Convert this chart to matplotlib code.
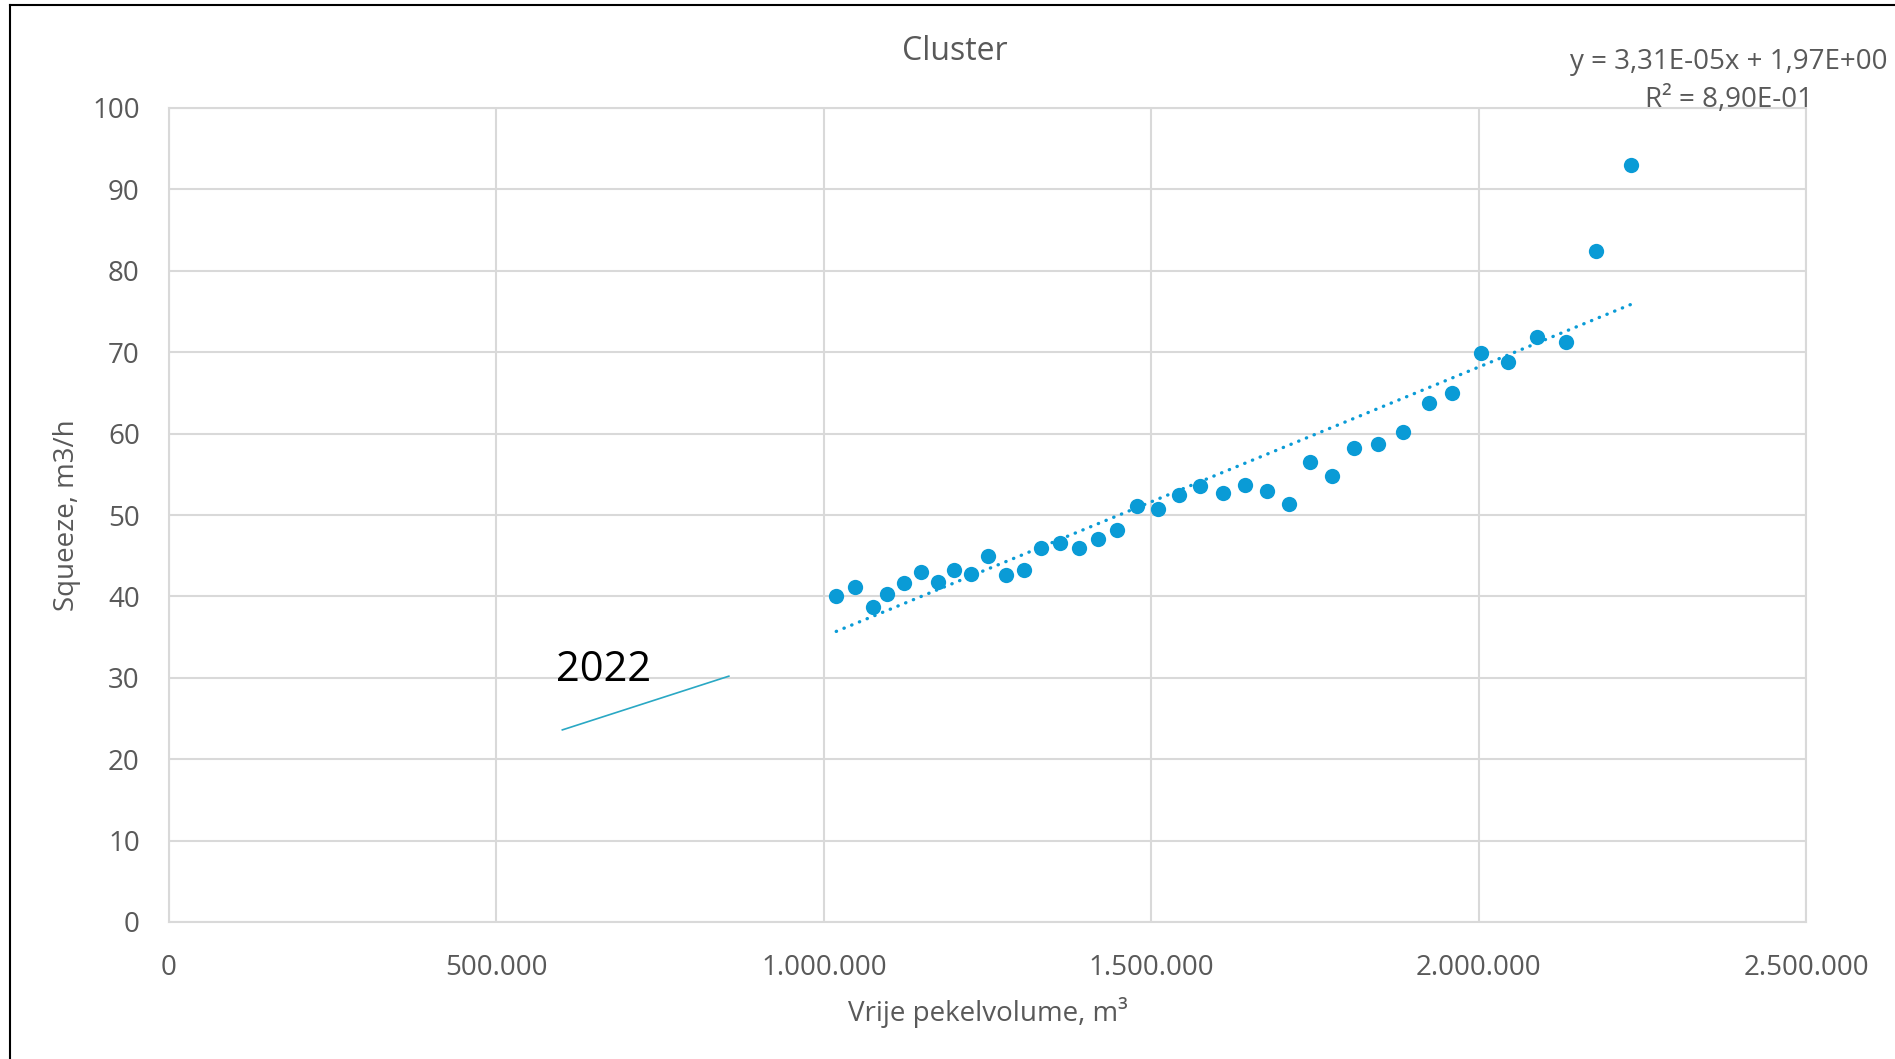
import numpy as np
import matplotlib.pyplot as plt
from matplotlib.ticker import FuncFormatter
from matplotlib.lines import Line2D

plt.rcParams['font.family'] = ['Open Sans', 'DejaVu Sans']

# Data
volume = [1019000, 1047000, 1075000, 1097000, 1123000, 1149000, 1175000, 1199000,
          1225000, 1251000, 1279000, 1306000, 1332000, 1361000, 1390000, 1419000,
          1448000, 1478000, 1510000, 1542000, 1575000, 1610000, 1643000, 1677000,
          1710000, 1743000, 1776000, 1810000, 1847000, 1885000, 1924000, 1960000,
          2003000, 2045000, 2089000, 2134000, 2179000, 2233000]
squeeze = [40.1, 41.1, 38.7, 40.3, 41.6, 43.0, 41.8, 43.3,
           42.7, 45.0, 42.6, 43.3, 45.9, 46.6, 46.0, 47.0,
           48.1, 51.1, 50.7, 52.4, 53.6, 52.7, 53.7, 53.0,
           51.3, 56.5, 54.8, 58.2, 58.7, 60.2, 63.7, 65.0,
           69.9, 68.8, 71.9, 71.2, 82.4, 93.0]

# trendline as printed on the chart
slope = 3.31e-05
intercept = 1.97

# the hand-drawn 2022 line
line2022_x = [600700, 855000]
line2022_y = [23.6, 30.2]

blue = '#0A9BD6'
grey_text = '#595959'
grid_col = '#D9D9D9'

fig = plt.figure(figsize=(18.95, 10.59), dpi=100)
ax = fig.add_axes([169 / 1895, 1 - 922 / 1059, 1637 / 1895, 814 / 1059])

ax.plot(volume, squeeze, 'o', color=blue, markersize=11, markeredgewidth=0, zorder=3)

# linear trendline over the data range
tx = np.array([min(volume), max(volume)])
ty = slope * tx + intercept
ax.plot(tx, ty, color=blue, linewidth=2.4, linestyle=(0, (0.1, 2.4)),
        dash_capstyle='round', zorder=2)

ax.plot(line2022_x, line2022_y, color='#2AA8C4', linewidth=1.2, zorder=2)
ax.text(590600, 29.6, '2022', fontsize=30, color='black', ha='left', va='baseline')

ax.set_xlim(0, 2500000)
ax.set_ylim(0, 100)
ax.set_xticks(np.arange(0, 2500001, 500000))
ax.set_yticks(np.arange(0, 101, 10))
ax.xaxis.set_major_formatter(FuncFormatter(lambda v, p: f'{int(v):,}'.replace(',', '.')))

ax.grid(True, color=grid_col, linewidth=1.5)
ax.set_axisbelow(True)
for s in ax.spines.values():
    s.set_color(grid_col)
    s.set_linewidth(1.5)
ax.tick_params(length=0, labelsize=20, labelcolor=grey_text)
ax.tick_params(axis='y', pad=21)
ax.tick_params(axis='x', pad=23)

ax.set_xlabel('Vrije pekelvolume, m³', fontsize=20, color=grey_text, va='center')
ax.xaxis.set_label_coords(0.5, (922 - 1012) / 814)
ax.set_ylabel('Squeeze, m3/h', fontsize=20, color=grey_text, va='center')
ax.yaxis.set_label_coords((67 - 169) / 1637, 0.5)

fig.text(955 / 1895, 1 - 51 / 1059, 'Cluster', fontsize=23, color=grey_text,
         ha='center', va='center')
fig.text(1729 / 1895, 1 - 81 / 1059, 'y = 3,31E-05x + 1,97E+00\nR² = 8,90E-01',
         fontsize=20, color=grey_text, ha='center', va='center', linespacing=1.46)

# outer chart border (left and top visible)
fig.add_artist(Line2D([10 / 1895, 10 / 1895], [0, 1 - 5 / 1059], color='black', linewidth=1.5))
fig.add_artist(Line2D([10 / 1895, 1], [1 - 5 / 1059, 1 - 5 / 1059], color='black', linewidth=1.5))

fig.savefig('out.png', dpi=100, facecolor='white')
